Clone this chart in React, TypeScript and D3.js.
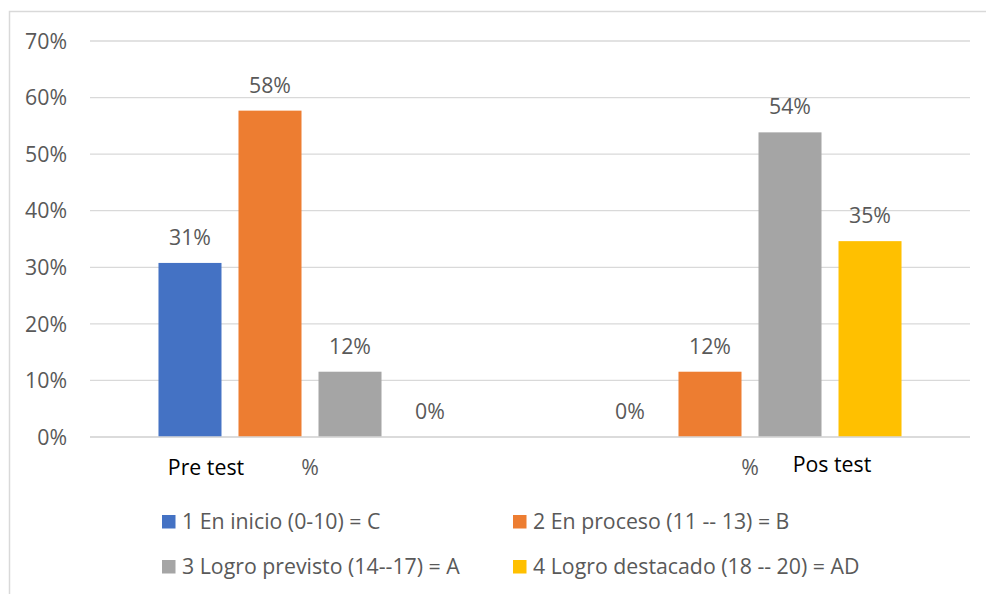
import React from "react";
import * as d3 from "d3";

const categories = ["Pre test", "Pos test"];
const series = [
  "1 En inicio (0-10) = C",
  "2 En proceso (11 -- 13) = B",
  "3 Logro previsto (14--17) = A",
  "4 Logro destacado (18 -- 20) = AD",
];
const preValues = [0.3077, 0.5769, 0.1154, 0];
const posValues = [0, 0.1154, 0.5385, 0.3462];
const yTicks = [0, 0.1, 0.2, 0.3, 0.4, 0.5, 0.6, 0.7];
const colors = ["#4472C4", "#ED7D31", "#A5A5A5", "#FFC000"];

const W = 986;
const H = 594;
const FONT = "'Open Sans', Lato, sans-serif";
const TXT = "#595959";
const FS = 21.3;

export default function App() {
  const values = [preValues, posValues];
  const y = d3.scaleLinear().domain([0, 0.7]).range([437, 41]);
  const x0 = d3.scaleBand<string>().domain(categories).range([90, 970]);
  const x1 = d3
    .scaleBand<string>()
    .domain(series)
    .range([0, x0.bandwidth()])
    .paddingInner(0.2125)
    .paddingOuter(0.856);
  const pct = d3.format(".0%");

  const legendPos = [
    [162, 515],
    [513, 515],
    [162, 560],
    [513, 560],
  ];

  return (
    <svg
      width={W}
      height={H}
      style={{ position: "absolute", left: 0, top: 0, background: "#fff" }}
      fontFamily={FONT}
    >
      <rect x={9.5} y={11.5} width={W + 20} height={H + 20} fill="#fff" stroke="#d9d9d9" strokeWidth={1.5} />
      {yTicks.map((t) => (
        <g key={t}>
          <line x1={90} x2={970} y1={y(t)} y2={y(t)} stroke="#d9d9d9" strokeWidth={1.3} />
          <text x={67} y={y(t)} dy="0.36em" textAnchor="end" fontSize={FS} fill={TXT}>
            {pct(t)}
          </text>
        </g>
      ))}
      {categories.map((c, ci) => (
        <g key={c} transform={`translate(${x0(c)},0)`}>
          {series.map((s, si) => {
            const v = values[ci][si];
            const bx = x1(s)!;
            return (
              <g key={s}>
                <rect x={bx} y={y(v)} width={x1.bandwidth()} height={y(0) - y(v)} fill={colors[si]} />
                <text
                  x={bx + x1.bandwidth() / 2}
                  y={y(v) - 18}
                  textAnchor="middle"
                  fontSize={FS}
                  fill={TXT}
                >
                  {pct(v)}
                </text>
              </g>
            );
          })}
        </g>
      ))}
      <line x1={90} x2={970} y1={y(0)} y2={y(0)} stroke="#d9d9d9" strokeWidth={1.5} />
      {/* category labels */}
      <text x={206} y={475} textAnchor="middle" fontSize={FS} fill="#000">
        {categories[0]}
      </text>
      <text x={x0(categories[0])! + x0.bandwidth() / 2} y={475} textAnchor="middle" fontSize={FS} fill={TXT}>
        %
      </text>
      <text x={x0(categories[1])! + x0.bandwidth() / 2} y={475} textAnchor="middle" fontSize={FS} fill={TXT}>
        %
      </text>
      <text x={832} y={472} textAnchor="middle" fontSize={FS} fill="#000">
        {categories[1]}
      </text>
      {series.map((s, i) => (
        <g key={s} transform={`translate(${legendPos[i][0]},${legendPos[i][1]})`}>
          <rect x={0} y={0} width={13.5} height={13.5} fill={colors[i]} />
          <text x={20} y={14} fontSize={FS} fill={TXT}>
            {s}
          </text>
        </g>
      ))}
    </svg>
  );
}
